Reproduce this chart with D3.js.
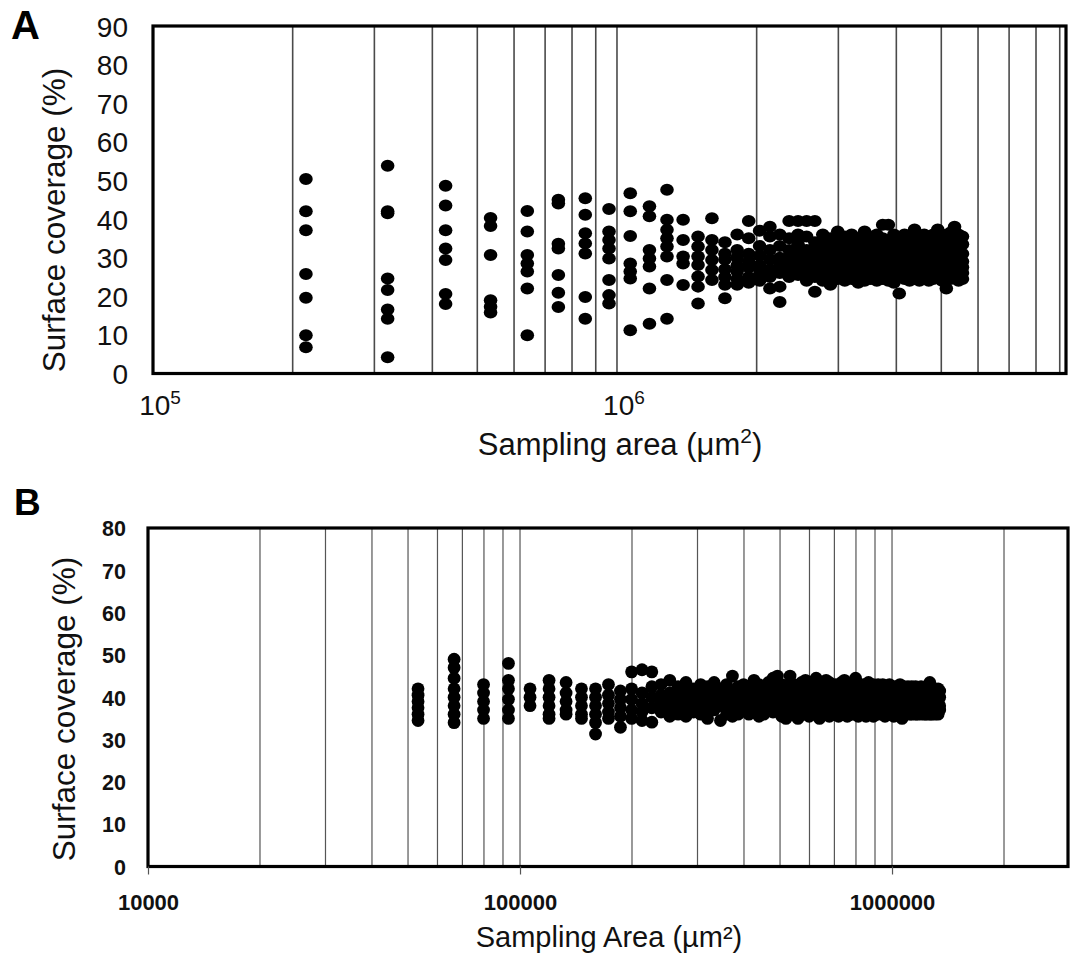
<!DOCTYPE html>
<html><head><meta charset="utf-8">
<script src="https://cdn.jsdelivr.net/npm/d3@7"></script>
<style>body{margin:0;background:#fff}</style>
</head><body>
<svg id="c" width="1070" height="955"></svg>
<script>
// ---------- Panel A data ----------
const aAreas = [213600,320400,427200,534000,640800,747600,854400,961200,1068000,1174800,1281600,1388400,1495200,1602000,
  1708800,1815600,1922400,2029200,2136000,2242800,2349600,2456400,2563200,2670000,2776800,2883600,2990400,3097200,3204000,
  3310800,3417600,3524400,3631200,3738000,3844800,3951600,4058400,4165200,4272000,4378800,4485600,4592400,4699200,4806000,
  4912800,5019600,5126400,5233200,5340000,5446800,5553600];
const aValues = [
  [50.4,42,37.1,25.8,19.6,9.9,6.8],
  [53.8,42,41.5,24.6,21.6,16.6,14.2,4.2],
  [48.6,43.5,37.1,32.4,29.4,20.6,18],
  [40.3,38.2,30.7,19,17.3,15.8],
  [42.1,36.8,30.7,28.5,26.4,22,9.9],
  [45,44,33.6,32.4,25.5,20.9,17.2],
  [45.4,41.1,36.3,33.7,31.1,19.8,14.2],
  [42.6,36.8,34.6,32.4,29.8,24.2,20.3,18.1],
  [46.7,42,35.6,28.5,26.4,24.6,11.2],
  [43.3,40.7,32,29.8,27.7,22,12.9],
  [47.6,39.8,37.2,35,32.9,30.3,24.2,14.2],
  [39.8,34.6,30.3,28.5,22.9],
  [35.5,32.9,30.3,28.1,25.1,22.5,18.1],
  [40.2,34.6,32,29.4,26.8,24.2],
  [34,31,29.5,27,25,23,19.5],
  [36,32,30,28,26.5,24.5,23],
  [39.5,35,31,29,27.5,25,23.5],
  [37,33,30.5,28,27,25.5,24],
  [38,35.5,32,29.5,27,25,22],
  [36,33,30,28,26,22.5,18.5],
  [39.5,35,32,30,28.5,27,25],
  [39.5,36,33.5,31,29,27,25.5],
  [39.5,35.5,32,30,28,26,24],
  [39.5,34,31.5,29.5,27.5,25,21.2],
  [36,33.5,31,29,27,25.5,24],
  [35,33,30.5,28.5,27,25,23],
  [36.8,34,31.5,30,28,26.5,24.5],
  [35.5,33,31,29,27.5,26,24],
  [36,34,32,30,28,26,24.5],
  [35,33,31,29.5,27.5,25.5,23.5],
  [36.8,34,31.5,29,27,25,24],
  [35.5,33,31,29.5,28,26.5,24.5],
  [36,34,32,30,28.5,26,24],
  [38.5,35,32.5,30.5,28,26,24.5],
  [38.5,34.5,31.5,29.5,27.5,25.5,24],
  [36,33.5,31,29,27,25,23.5],
  [35,33,31,29.5,28,26,20.7],
  [36,34,32,30,28,26.5,24.5],
  [35.5,33.5,31,29,27.5,25.5,24],
  [37.3,34,31.5,30,28,26,24.5],
  [35,33,31,29.5,27.5,25.5,24],
  [36,34,32,30,28.5,26.5,25],
  [35.5,33.5,31,29,27.5,25.5,24],
  [36,34,31.5,30,28,26,24.5],
  [37.3,34.5,32,30,28.5,26.5,25],
  [36,33.5,31,29.5,27.5,25.5,24],
  [35.5,33,31,29,27,24.5,22],
  [36.5,34,32,30,28,26,24.5],
  [38,35,32.5,30.5,28.5,26.5,25],
  [36,34,31.5,29.5,27.5,25.5,24],
  [35.5,33.5,31,29,27.5,26,24.5]
];
const aYTicks = [0,10,20,30,40,50,60,70,80,90];
const aXTickExps = [5,6];
const aGrid = [2e5,3e5,4e5,5e5,6e5,7e5,8e5,9e5,1e6,2e6,3e6,4e6,5e6,6e6,7e6,8e6,9e6];

// ---------- Panel B data ----------
const bAreas = [53200,66500,79800,93100,106400,119700,133000,146300,159600,172900,186200,199500,212800,226100,239400,
  252700,266000,279300,292600,305900,319200,332500,345800,359100,372400,385700,399000,412300,425600,438900,452200,465500,
  478800,492100,505400,518700,532000,545300,558600,571900,585200,598500,611800,625100,638400,651700,665000,678300,691600,
  704900,718200,731500,744800,758100,771400,784700,798000,811300,824600,837900,851200,864500,877800,891100,904400,917700,
  931000,944300,957600,970900,984200,997500,1010800,1024100,1037400,1050700,1064000,1077300,1090600,1103900,1117200,
  1130500,1143800,1157100,1170400,1183700,1197000,1210300,1223600,1236900,1250200,1263500,1276800,1290100,1303400,
  1316700,1330000,1343300];
const bValues = [
  [42,40.5,39,37.5,36,34.5],
  [49,47,44.5,42,40,38,36,34],
  [43,41,39,37,35],
  [48,44,42,39.5,37,35],
  [42,40,38],
  [44,42,40,38,36,35],
  [43.5,41,39,37,36],
  [42,40,38,36,35],
  [42,40,38,36,34,31.3],
  [43,40.5,38.5,36.5,35],
  [41.5,39.5,37.5,35.5,32.9],
  [46,42,39.5,37,35],
  [46.5,41,38.5,36.5,34.5],
  [46,42.5,40,37.5,34.1],
  [43,40.5,38.5,36.5],
  [44,41,39,37,35.5],
  [42.5,40,38,36],
  [43.5,41,39,37,35.5],
  [42,40,38,36.5],
  [43,40.5,38.5,36],
  [42.5,40,38,36.5,35],
  [43.5,41,39,37],
  [42,40,38,34.5],
  [43,40.5,38.5,36],
  [45,41,39,37,35.5],
  [42.5,40,38,36],
  [43,41,39,37],
  [42.5,40,38,36],
  [44,41,38.5,36.5],
  [43,40.5,38,35.5],
  [42,39.5,37.5,36],
  [43.5,41,39,37],
  [44.5,41.5,39,36.5],
  [45,42,39.5,37],
  [43,40.5,38,35.5],
  [42.5,40,37.5,35],
  [45,42,39,36.5],
  [43,40.5,38.5,36],
  [42,40,38,35],
  [43.5,41,38.5,36.5],
  [44,41.5,39,36],
  [42.5,40,37.5,35.5],
  [43,40.5,38,36.5],
  [44.5,41,38.5,36],
  [43,40.5,38,35],
  [42.5,40,37.5,36],
  [44,41.5,39,36.5],
  [43.5,41,38.5,35.5],
  [42,40,38,36],
  [43,40.5,38,36.5],
  [42.5,40,37.5,35.5],
  [43.5,41,38.5,36],
  [44,41,38.5,36.5],
  [43,40.5,38,35.5],
  [42.5,40,37.5,36],
  [43,41,38.5,36],
  [44.5,41.5,39,36.5],
  [43,40.5,38,35.5],
  [42.5,40,38,36],
  [43,40.5,38,36],
  [42,40,37.5,35.5],
  [43.5,41,38.5,36.5],
  [42.5,40,38,36],
  [43,40.5,38,35.5],
  [42,40,37.5,36],
  [43,40.5,38.5,36],
  [42.5,40,38,36.5],
  [43,41,38.5,36],
  [42,40,38,35.5],
  [42.5,40.5,38,36],
  [43,40.5,38.5,36.5],
  [42,40,38,36],
  [42.5,40.5,38,35.5],
  [42,40,37.5,36],
  [42.5,40.5,38.5,36],
  [43,40.5,38,36.5],
  [42,40,38,35],
  [42.5,40.5,38.5,36],
  [42,40,38,36],
  [42.5,40,38,36.5],
  [42,40.5,38.5,36],
  [42.5,40,38,36],
  [42,40,38,36.5],
  [42.5,40.5,38.5,36],
  [42,40,38,36],
  [42,40.5,38.5,36.5],
  [42.5,40,38,36],
  [42,40,38,36.5],
  [42,40.5,38.5,36],
  [42.5,40,38,36],
  [42,40,38,36.5],
  [43.5,41,38.5,36],
  [42,40,38,36],
  [42,40.5,38.5,36.5],
  [42,40,38,36],
  [41.5,40,38,36.5],
  [42,40,38.5,36],
  [41.5,40,38,37]
];
const bYTicks = [0,10,20,30,40,50,60,70,80];
const bXTicks = [10000,100000,1000000];
const bGrid = [2e4,3e4,4e4,5e4,6e4,7e4,8e4,9e4,1e5,2e5,3e5,4e5,5e5,6e5,7e5,8e5,9e5,1e6,2e6];

const svg = d3.select("#c");
const SANS = "'Liberation Sans', Arial, sans-serif";

function flatten(areas, values){
  const pts = [];
  areas.forEach((a,i)=>values[i].forEach(v=>pts.push([a,v])));
  return pts;
}

// ================= Panel A =================
{
  const L=153, R=1066, T=26, B=373.5;
  const x = d3.scaleLog().domain([1e5, 9.284e6]).range([L,R]);
  const y = d3.scaleLinear().domain([0,90]).range([B,T]);
  const g = svg.append("g");
  g.selectAll("line.grid").data(aGrid).join("line")
    .attr("x1",d=>x(d)).attr("x2",d=>x(d)).attr("y1",T).attr("y2",B)
    .attr("stroke","#4a4a4a").attr("stroke-width",1.6);
  g.selectAll("ellipse").data(flatten(aAreas,aValues)).join("ellipse")
    .attr("cx",d=>x(d[0])).attr("cy",d=>y(d[1])).attr("rx",6.8).attr("ry",6).attr("fill","#000");
  g.append("rect").attr("x",L).attr("y",T).attr("width",R-L).attr("height",B-T)
    .attr("fill","none").attr("stroke","#000").attr("stroke-width",3.2);
  const yAx = d3.axisLeft(y).tickValues(aYTicks).tickSize(0).tickPadding(0).tickFormat(d3.format("d"));
  const ya = g.append("g").attr("transform",`translate(${128},0)`).call(yAx);
  ya.select(".domain").remove();
  ya.selectAll("text").attr("font-family",SANS).attr("font-size",28).attr("fill","#111").attr("dy","0.36em");
  // x tick labels with superscripts
  const xl = g.selectAll("text.xt").data(aXTickExps).join("text")
    .attr("class","xt").attr("x",d=>x(Math.pow(10,d))+7).attr("y",415)
    .attr("text-anchor","middle").attr("font-family",SANS).attr("font-size",28).attr("fill","#111");
  xl.append("tspan").text("10");
  xl.append("tspan").attr("dy",-11).attr("font-size",19).text(d=>d);
  const xt = g.append("text").attr("x",620).attr("y",455).attr("text-anchor","middle")
    .attr("font-family",SANS).attr("font-size",31).attr("fill","#111");
  xt.append("tspan").text("Sampling area (μm");
  xt.append("tspan").attr("dy",-12).attr("font-size",21).text("2");
  xt.append("tspan").attr("dy",12).text(")");
  g.append("text").attr("transform","translate(65,220) rotate(-90)").attr("text-anchor","middle")
    .attr("font-family",SANS).attr("font-size",31.5).attr("fill","#111").text("Surface coverage (%)");
  g.append("text").attr("x",11).attr("y",39).attr("font-family",SANS).attr("font-weight","bold")
    .attr("font-size",40).attr("fill","#000").text("A");
}

// ================= Panel B =================
{
  const L=148, R=1068, T=528, B=866.5;
  const x = d3.scaleLog().domain([1e4, 2.972e6]).range([L,R]);
  const y = d3.scaleLinear().domain([0,80]).range([B,T]);
  const g = svg.append("g");
  g.selectAll("line.grid").data(bGrid).join("line")
    .attr("x1",d=>x(d)).attr("x2",d=>x(d)).attr("y1",T).attr("y2",B)
    .attr("stroke","#555").attr("stroke-width",1.2);
  g.selectAll("circle").data(flatten(bAreas,bValues)).join("circle")
    .attr("cx",d=>x(d[0])).attr("cy",d=>y(d[1])).attr("r",6.4).attr("fill","#000");
  g.append("rect").attr("x",L).attr("y",T).attr("width",R-L).attr("height",B-T)
    .attr("fill","none").attr("stroke","#000").attr("stroke-width",3.2);
  const xAx = d3.axisBottom(x).tickValues(bXTicks).tickSize(8).tickPadding(20).tickFormat(d3.format("d"));
  const xa = g.append("g").attr("transform",`translate(0,${B})`).call(xAx);
  xa.select(".domain").remove();
  xa.selectAll(".tick line").attr("stroke","#555").attr("stroke-width",1.2);
  xa.selectAll("text").attr("font-family",SANS).attr("font-weight","bold").attr("font-size",22).attr("fill","#111");
  const yAx = d3.axisLeft(y).tickValues(bYTicks).tickSize(0).tickPadding(0).tickFormat(d3.format("d"));
  const ya = g.append("g").attr("transform",`translate(${126},0)`).call(yAx);
  ya.select(".domain").remove();
  ya.selectAll("text").attr("font-family",SANS).attr("font-weight","bold").attr("font-size",21.5).attr("fill","#111").attr("dy","0.36em");
  g.append("text").attr("x",609).attr("y",947).attr("text-anchor","middle")
    .attr("font-family",SANS).attr("font-size",29).attr("fill","#111").text("Sampling Area (µm²)");
  g.append("text").attr("transform","translate(75,709) rotate(-90)").attr("text-anchor","middle")
    .attr("font-family",SANS).attr("font-size",31.5).attr("fill","#111").text("Surface coverage (%)");
  g.append("text").attr("x",14).attr("y",515).attr("font-family",SANS).attr("font-weight","bold")
    .attr("font-size",37).attr("fill","#000").text("B");
}
</script>
</body></html>
